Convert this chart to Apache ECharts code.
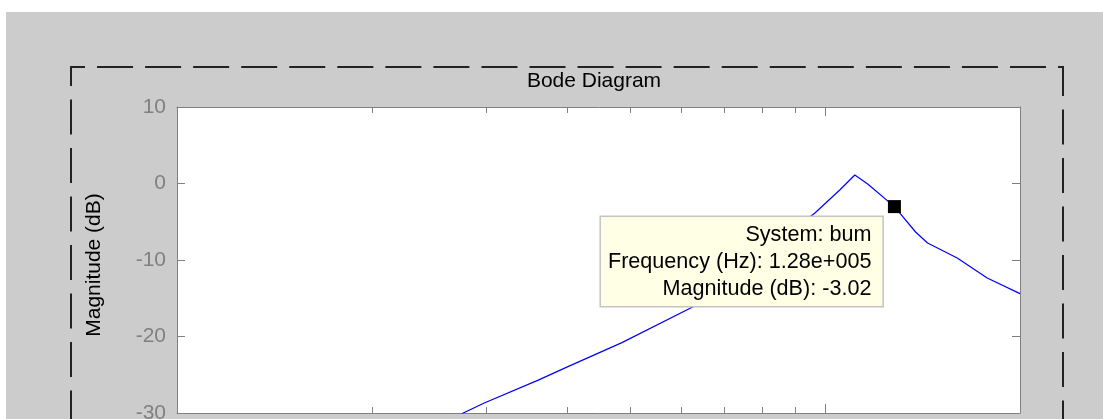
<!DOCTYPE html>
<html>
<head>
<meta charset="utf-8">
<script src="https://cdn.jsdelivr.net/npm/echarts@6/dist/echarts.min.js"></script>
<style>
  html, body { margin: 0; padding: 0; background: #ffffff; }
  #chart {
    width: 1103px; height: 419px;
    background: linear-gradient(#cccccc, #cccccc) 6px 12px / 100% 100% no-repeat, #ffffff;
  }
</style>
</head>
<body>
<div id="chart"></div>
<script>
// Magnitude response of system "bum" (frequency in Hz, magnitude in dB)
const freqHz = [27500, 29800, 36100, 40200, 48600, 62600, 96500, 105400, 111200, 116400, 128000, 138000, 144000, 160000, 178000, 200000];
const magDb  = [-30.1, -28.7, -25.7, -23.9, -20.8, -16.1, -3.86, -0.85, 1.11, -0.07, -3.02, -6.34, -7.78, -9.74, -12.35, -14.4];

// Data cursor
const systemName = 'bum';
const cursorFreqHz = [128000];
const cursorMagDb = [-3.02];

// Axis ticks
const freqMinorTicks = [20000, 30000, 40000, 50000, 60000, 70000, 80000, 90000];
const freqDecadeTicks = [100000];
const magTicks = [-30, -20, -10, 0, 10];

const FONT = '"Liberation Sans", Arial, sans-serif';
const AXIS_GRAY = '#808080';

function matlabExp(v) {
  const [m, e] = v.toExponential(2).split('e');
  const sign = e[0] === '-' ? '-' : '+';
  const digits = e.replace(/^[+-]/, '').padStart(3, '0');
  return m + 'e' + sign + digits;
}

function freqAxis(position, ticks, len, showLine) {
  return {
    type: 'log', logBase: 10, min: 10000, max: 200000, position: position,
    axisLine: { show: showLine, onZero: false, lineStyle: { color: AXIS_GRAY, width: 1 } },
    axisTick: { show: true, inside: true, length: len, customValues: ticks,
                lineStyle: { color: AXIS_GRAY, width: 1 } },
    minorTick: { show: false },
    axisLabel: { show: false },
    splitLine: { show: false }
  };
}

function magAxis(position, showLabels) {
  return {
    type: 'value', min: magTicks[0], max: magTicks[magTicks.length - 1], interval: 10,
    position: position,
    axisLine: { show: true, onZero: false, lineStyle: { color: AXIS_GRAY, width: 1 } },
    axisTick: { show: true, inside: true, length: 8, lineStyle: { color: AXIS_GRAY, width: 1 } },
    axisLabel: { show: showLabels, color: AXIS_GRAY, fontFamily: FONT, fontSize: 21, margin: 11 },
    splitLine: { show: false }
  };
}

const chart = echarts.init(document.getElementById('chart'), null, { renderer: 'canvas' });

chart.setOption({
  backgroundColor: 'transparent',
  animation: false,
  grid: {
    left: 177, top: 107, right: 83, bottom: 6,
    show: true, backgroundColor: '#ffffff', borderWidth: 0,
    outerBoundsMode: 'none', containLabel: false
  },
  xAxis: [
    freqAxis('bottom', freqMinorTicks.concat(freqDecadeTicks), 6, true),
    freqAxis('bottom', freqDecadeTicks, 9, false),
    freqAxis('top', freqMinorTicks.concat(freqDecadeTicks), 6, true),
    freqAxis('top', freqDecadeTicks, 9, false)
  ],
  yAxis: [
    magAxis('left', true),
    magAxis('right', false)
  ],
  graphic: [
    // dashed figure frame
    { type: 'line', silent: true, shape: { x1: 70, y1: 67, x2: 1064, y2: 67 },
      style: { stroke: '#222222', lineWidth: 2, lineDash: [36, 12.05], lineDashOffset: 21 } },
    { type: 'line', silent: true, shape: { x1: 71, y1: 66, x2: 71, y2: 430 },
      style: { stroke: '#222222', lineWidth: 2, lineDash: [35, 13.5], lineDashOffset: 15 } },
    { type: 'line', silent: true, shape: { x1: 1063, y1: 66, x2: 1063, y2: 430 },
      style: { stroke: '#222222', lineWidth: 2, lineDash: [35, 13.5], lineDashOffset: 5 } },
    // title
    { type: 'text', silent: true, x: 594, y: 81,
      style: { text: 'Bode Diagram', fill: '#000000', font: '21px ' + FONT,
               align: 'center', verticalAlign: 'middle' } },
    // y-axis title
    { type: 'text', silent: true, x: 94, y: 265, rotation: Math.PI / 2,
      style: { text: 'Magnitude (dB)', fill: '#000000', font: '21px ' + FONT,
               align: 'center', verticalAlign: 'middle' } }
  ],
  series: [
    {
      type: 'line', xAxisIndex: 0, yAxisIndex: 0, silent: true,
      data: freqHz.map((f, i) => [f, magDb[i]]),
      showSymbol: false, symbol: 'none', clip: true, z: 2,
      lineStyle: { color: '#0000ff', width: 1.2, opacity: 1 }
    },
    {
      type: 'scatter', xAxisIndex: 0, yAxisIndex: 0, silent: true, z: 5,
      data: cursorFreqHz.map((f, i) => [f, cursorMagDb[i]]),
      symbol: 'rect', symbolSize: 13,
      itemStyle: { color: '#000000', opacity: 1 },
      label: {
        show: true,
        position: [-5.5, 17],
        align: 'right', verticalAlign: 'top',
        formatter: (p) => 'System: ' + systemName +
          '\nFrequency (Hz): ' + matlabExp(p.value[0]) +
          '\nMagnitude (dB): ' + p.value[1].toFixed(2),
        fontFamily: FONT, fontSize: 21.6, lineHeight: 27, color: '#000000',
        textBorderWidth: 0,
        backgroundColor: '#ffffe6', borderColor: '#c4c4c4', borderWidth: 1.5,
        padding: [4, 11, 4, 7]
      }
    }
  ]
});
</script>
</body>
</html>
